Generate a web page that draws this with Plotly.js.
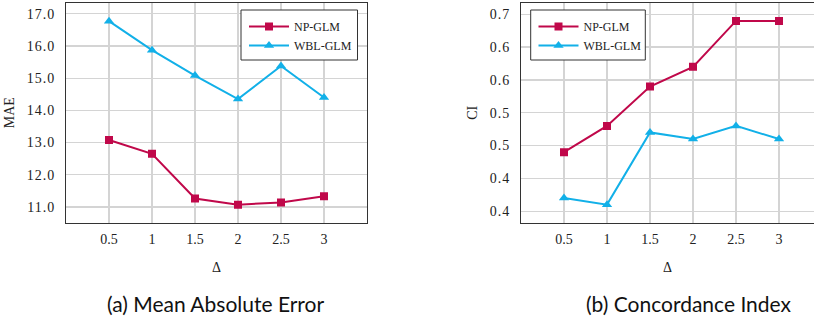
<!DOCTYPE html>
<html>
<head>
<meta charset="utf-8">
<script src="https://cdn.plot.ly/plotly-3.0.1.min.js"></script>
<style>
html,body{margin:0;padding:0;background:#fff;}
#chart{width:814px;height:323px;}
.ytick text, .y2tick text{letter-spacing:1px;}
</style>
</head>
<body>
<div id="chart"></div>
<script>
const delta = [0.5, 1, 1.5, 2, 2.5, 3];
const maeNP = [13.08, 12.65, 11.26, 11.07, 11.14, 11.33];
const maeWBL = [16.77, 15.87, 15.08, 14.35, 15.38, 14.40];
const ciNP = [0.49, 0.53, 0.59, 0.62, 0.69, 0.69];
const ciWBL = [0.42, 0.41, 0.52, 0.51, 0.53, 0.51];
const maeTicks = [11, 12, 13, 14, 15, 16, 17];
const maeTickText = ["11.0", "12.0", "13.0", "14.0", "15.0", "16.0", "17.0"];
const ciTicks = [0.40, 0.45, 0.50, 0.55, 0.60, 0.65, 0.70];
const ciTickText = ["0.4", "0.4", "0.5", "0.5", "0.6", "0.6", "0.7"];
const xTickText = ["0.5", "1", "1.5", "2", "2.5", "3"];
const seriesNames = ["NP-GLM", "WBL-GLM"];
const captions = ["(a) Mean Absolute Error", "(b) Concordance Index"];

const red = "#c0084a", cyan = "#12b0e8";
const serif = "Liberation Serif, Times New Roman, serif";
const W = 814, H = 323;

function tr(x, y, name, color, symbol, xa, ya, legend) {
  return {x: x, y: y, name: name, type: "scatter", mode: "lines+markers",
    xaxis: xa, yaxis: ya, legend: legend, showlegend: true,
    line: {color: color, width: 2},
    marker: {color: color, symbol: symbol, size: symbol === "square" ? 8 : 9}};
}
const data = [
  tr(delta, maeNP, seriesNames[0], red, "square", "x", "y", "legend"),
  tr(delta, maeWBL, seriesNames[1], cyan, "triangle-up", "x", "y", "legend"),
  tr(delta, ciNP, seriesNames[0], red, "square", "x2", "y2", "legend2"),
  tr(delta, ciWBL, seriesNames[1], cyan, "triangle-up", "x2", "y2", "legend2")
];

const ydom = [1 - 223/H, 1 - 2.5/H];
function xax(dom, range) {
  return {domain: dom, range: range, tickvals: delta, ticktext: xTickText,
    showgrid: true, gridcolor: "#d4d4d4", gridwidth: 1.3, zeroline: false,
    showline: true, linecolor: "#333", linewidth: 1, mirror: true,
    ticks: "", ticklabelstandoff: 3,
    tickfont: {family: serif, size: 14, color: "#222"},
    title: {text: "Δ", font: {family: serif, size: 14, color: "#222"}, standoff: 16}};
}
function yax(anchor, range, tv, tt, title, mirror) {
  return {domain: ydom, anchor: anchor, range: range, tickvals: tv, ticktext: tt,
    showgrid: true, gridcolor: "#d4d4d4", gridwidth: 1.3, zeroline: false,
    showline: true, linecolor: "#333", linewidth: 1, mirror: mirror,
    ticks: "", ticklabelstandoff: 7,
    tickfont: {family: serif, size: 14, color: "#222"},
    title: {text: title, font: {family: serif, size: 14, color: "#222"}, standoff: 8}};
}
const legendStyle = (x0) => ({
  x: x0 / W, xanchor: "left", y: 1 - 12/H, yanchor: "top",
  bgcolor: "rgba(0,0,0,0)", borderwidth: 0,
  font: {family: serif, size: 12, color: "#222"},
  tracegroupgap: 0, itemwidth: 40
});
const legendBox = (x0, x1) => ({type: "rect", xref: "paper", yref: "paper",
  x0: x0 / W, x1: x1 / W, y0: 1 - 60/H, y1: 1 - 10/H,
  fillcolor: "#fff", line: {color: "#333", width: 1}, layer: "above"});

const capFont = {family: "Lato, Open Sans, sans-serif", size: 21, color: "#111"};
const layout = {
  width: W, height: H, margin: {l: 0, r: 0, t: 0, b: 0},
  paper_bgcolor: "#fff", plot_bgcolor: "#fff", showlegend: true,
  xaxis: Object.assign(xax([66/W, 367/W], [0, 3.5]), {anchor: "y"}),
  yaxis: yax("x", [10.5, 17.35], maeTicks, maeTickText, "MAE", true),
  xaxis2: Object.assign(xax([521/W, 1], [0, 3.5 * 293/301]), {anchor: "y2"}),
  yaxis2: yax("x2", [0.382, 0.718], ciTicks, ciTickText, "CI", false),
  legend: legendStyle(244),
  legend2: legendStyle(533.5),
  shapes: [legendBox(241, 357.5), legendBox(530.7, 645.3)],
  annotations: [
    {text: captions[0], xref: "paper", yref: "paper", x: 216/W, y: 1 - 303/H,
     xanchor: "center", yanchor: "middle", showarrow: false, font: capFont},
    {text: captions[1], xref: "paper", yref: "paper", x: 689/W, y: 1 - 303/H,
     xanchor: "center", yanchor: "middle", showarrow: false, font: capFont}
  ]
};
Plotly.newPlot("chart", data, layout, {displayModeBar: false, staticPlot: true});
</script>
</body>
</html>
